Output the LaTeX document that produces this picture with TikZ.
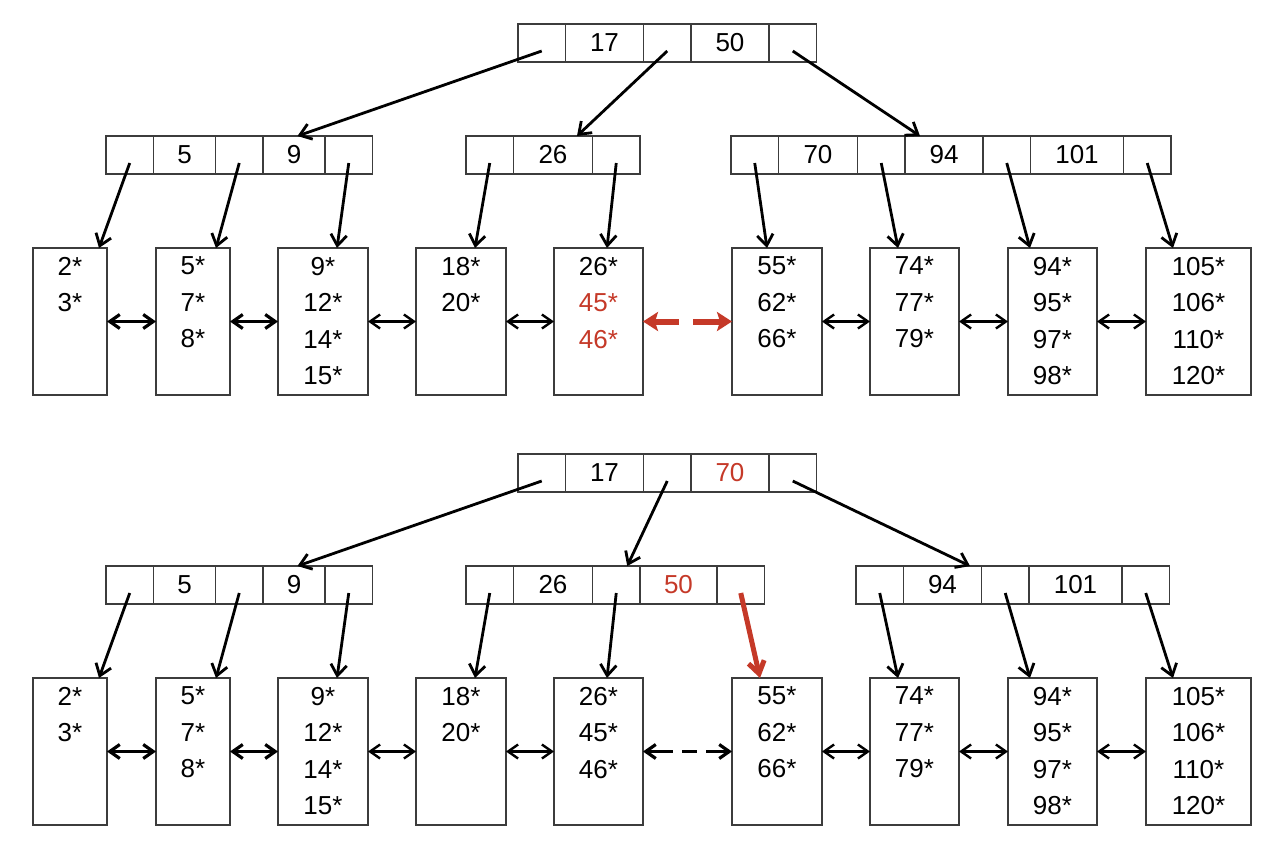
\documentclass[tikz,border=0pt]{standalone}
\usepackage{fontspec}
\setmainfont{Liberation Sans}
\usetikzlibrary{positioning, calc, arrows.meta}
\definecolor{hl}{RGB}{197,57,40}
\definecolor{boxgray}{RGB}{60,60,60}

\begin{document}
\begin{tikzpicture}[x=0.5pt, y=-0.5pt, node distance=0pt,
	every node/.style={font=\fontsize{13}{18.25}\selectfont},
	cell/.style={draw=boxgray, line width=0.75pt, outer sep=0pt, inner sep=0pt, minimum height=19pt, anchor=west},
	ptrcell/.style={cell, minimum width=23.75pt},
	keycell/.style={cell, minimum width=#1},
	leaf/.style={draw=boxgray, line width=0.75pt, outer sep=0pt, minimum height=73.5pt, anchor=north west,
		label={[anchor=north, align=center, inner sep=4.3pt]north:#1}},
	downarrow/.style={-{Straight Barb[length=5.5pt, width=8pt]}, line width=1.4pt},
	sibling/.style={{Straight Barb[length=5pt, width=7pt]}-{Straight Barb[length=5pt, width=7pt]}, line width=1.2pt},
	thicksibling/.style={sibling, line width=1.6pt}]
	\useasboundingbox (0,0) rectangle (1266,843);

	% top tree: before
	\node[ptrcell] (tr1) at (518,43) {};
	\node[keycell=39pt, right=of tr1] (tr2) {17};
	\node[ptrcell, right=of tr2] (tr3) {};
	\node[keycell=39pt, right=of tr3] (tr4) {50};
	\node[ptrcell, right=of tr4] (tr5) {};

	\node[ptrcell] (tx1) at (106,155) {};
	\node[keycell=31pt, right=of tx1] (tx2) {5};
	\node[ptrcell, right=of tx2] (tx3) {};
	\node[keycell=31pt, right=of tx3] (tx4) {9};
	\node[ptrcell, right=of tx4] (tx5) {};

	\node[ptrcell] (ty1) at (466,155) {};
	\node[keycell=39.5pt, right=of ty1] (ty2) {26};
	\node[ptrcell, right=of ty2] (ty3) {};

	\node[ptrcell] (tz1) at (731,155) {};
	\node[keycell=39.5pt, right=of tz1] (tz2) {70};
	\node[ptrcell, right=of tz2] (tz3) {};
	\node[keycell=39pt, right=of tz3] (tz4) {94};
	\node[ptrcell, right=of tz4] (tz5) {};
	\node[keycell=46.5pt, right=of tz5] (tz6) {101};
	\node[ptrcell, right=of tz6] (tz7) {};

	\node[leaf={2*\\3*}, minimum width=37pt] (tl1) at (33,248) {};
	\node[leaf={5*\\7*\\8*}, minimum width=37pt] (tl2) at (156,248) {};
	\node[leaf={9*\\12*\\14*\\15*}, minimum width=45pt] (tl3) at (278,248) {};
	\node[leaf={18*\\20*}, minimum width=45pt] (tl4) at (416,248) {};
	\node[leaf={26*\\\textcolor{hl}{45*}\\\textcolor{hl}{46*}}, minimum width=44.5pt] (tl5) at (554,248) {};
	\node[leaf={55*\\62*\\66*}, minimum width=45pt] (tl6) at (732,248) {};
	\node[leaf={74*\\77*\\79*}, minimum width=44.5pt] (tl7) at (870,248) {};
	\node[leaf={94*\\95*\\97*\\98*}, minimum width=44.5pt] (tl8) at (1008,248) {};
	\node[leaf={105*\\106*\\110*\\120*}, minimum width=52.5pt] (tl9) at (1146,248) {};

	\draw[downarrow] ([yshift=-4pt]tr1.center) -- ([xshift=1.75pt]tx4.north);
	\draw[downarrow] ([yshift=-4pt]tr3.center) -- ([xshift=12pt]ty2.north);
	\draw[downarrow] ([yshift=-4pt]tr5.center) -- ([xshift=-12pt]tz4.north);

	\draw[downarrow] ([yshift=-4pt]tx1.center) -- ([xshift=14.5pt]tl1.north);
	\draw[downarrow] ([yshift=-4pt]tx3.center) -- ([xshift=11.5pt]tl2.north);
	\draw[downarrow] ([yshift=-4pt]tx5.center) -- ([xshift=7pt]tl3.north);
	\draw[downarrow] ([yshift=-4pt]ty1.center) -- ([xshift=7pt]tl4.north);
	\draw[downarrow] ([yshift=-4pt]ty3.center) -- ([xshift=4.25pt]tl5.north);
	\draw[downarrow] ([yshift=-4pt]tz1.center) -- ([xshift=-5pt]tl6.north);
	\draw[downarrow] ([yshift=-4pt]tz3.center) -- ([xshift=-8.25pt]tl7.north);
	\draw[downarrow] ([yshift=-4pt]tz5.center) -- ([xshift=-11.25pt]tl8.north);
	\draw[downarrow] ([yshift=-4pt]tz7.center) -- ([xshift=-12.75pt]tl9.north);

	\draw[thicksibling] (tl1) -- (tl2);
	\draw[thicksibling] (tl2) -- (tl3);
	\foreach \i/\j in {3/4, 4/5, 6/7, 7/8, 8/9}
		\draw[sibling] (tl\i) -- (tl\j);
	\draw[hl, line width=3pt, {Stealth[length=7.5pt, width=9.5pt, inset=1.5pt]}-{Stealth[length=7.5pt, width=9.5pt, inset=1.5pt]},
		dash pattern=on 12.5pt off 7pt on 30pt] (tl5) -- (tl6);

	% bottom tree: after
	\node[ptrcell] (br1) at (518,473) {};
	\node[keycell=39pt, right=of br1] (br2) {17};
	\node[ptrcell, right=of br2] (br3) {};
	\node[keycell=39pt, right=of br3, text=hl] (br4) {70};
	\node[ptrcell, right=of br4] (br5) {};

	\node[ptrcell] (bx1) at (106,585) {};
	\node[keycell=31pt, right=of bx1] (bx2) {5};
	\node[ptrcell, right=of bx2] (bx3) {};
	\node[keycell=31pt, right=of bx3] (bx4) {9};
	\node[ptrcell, right=of bx4] (bx5) {};

	\node[ptrcell] (by1) at (466,585) {};
	\node[keycell=39.5pt, right=of by1] (by2) {26};
	\node[ptrcell, right=of by2] (by3) {};
	\node[keycell=38.5pt, right=of by3, text=hl] (by4) {50};
	\node[ptrcell, right=of by4] (by5) {};

	\node[ptrcell] (bz1) at (856,585) {};
	\node[keycell=39pt, right=of bz1] (bz2) {94};
	\node[ptrcell, right=of bz2] (bz3) {};
	\node[keycell=46.5pt, right=of bz3] (bz4) {101};
	\node[ptrcell, right=of bz4] (bz5) {};

	\node[leaf={2*\\3*}, minimum width=37pt] (bl1) at (33,678) {};
	\node[leaf={5*\\7*\\8*}, minimum width=37pt] (bl2) at (156,678) {};
	\node[leaf={9*\\12*\\14*\\15*}, minimum width=45pt] (bl3) at (278,678) {};
	\node[leaf={18*\\20*}, minimum width=45pt] (bl4) at (416,678) {};
	\node[leaf={26*\\45*\\46*}, minimum width=44.5pt] (bl5) at (554,678) {};
	\node[leaf={55*\\62*\\66*}, minimum width=45pt] (bl6) at (732,678) {};
	\node[leaf={74*\\77*\\79*}, minimum width=44.5pt] (bl7) at (870,678) {};
	\node[leaf={94*\\95*\\97*\\98*}, minimum width=44.5pt] (bl8) at (1008,678) {};
	\node[leaf={105*\\106*\\110*\\120*}, minimum width=52.5pt] (bl9) at (1146,678) {};

	\draw[downarrow] ([yshift=-4pt]br1.center) -- ([xshift=1.75pt]bx4.north);
	\draw[downarrow] ([yshift=-4pt]br3.center) -- ([xshift=5.5pt]by3.north);
	\draw[downarrow] ([yshift=-4pt]br5.center) -- ([xshift=13.75pt]bz2.north);

	\draw[downarrow] ([yshift=-4pt]bx1.center) -- ([xshift=14.5pt]bl1.north);
	\draw[downarrow] ([yshift=-4pt]bx3.center) -- ([xshift=11.5pt]bl2.north);
	\draw[downarrow] ([yshift=-4pt]bx5.center) -- ([xshift=7pt]bl3.north);
	\draw[downarrow] ([yshift=-4pt]by1.center) -- ([xshift=7pt]bl4.north);
	\draw[downarrow] ([yshift=-4pt]by3.center) -- ([xshift=4.25pt]bl5.north);
	\draw[downarrow, hl, line width=2.5pt, -{Straight Barb[length=6pt, width=8pt]}] ([yshift=-4pt]by5.center) -- ([xshift=-8.5pt]bl6.north);
	\draw[downarrow] ([yshift=-4pt]bz1.center) -- ([xshift=-8.25pt]bl7.north);
	\draw[downarrow] ([yshift=-4pt]bz3.center) -- ([xshift=-11.25pt]bl8.north);
	\draw[downarrow] ([yshift=-4pt]bz5.center) -- ([xshift=-12.75pt]bl9.north);

	\draw[thicksibling] (bl1) -- (bl2);
	\draw[thicksibling] (bl2) -- (bl3);
	\foreach \i/\j in {3/4, 4/5, 6/7, 7/8, 8/9}
		\draw[sibling] (bl\i) -- (bl\j);
	\draw[sibling, line width=1.6pt, dash pattern=on 13pt off 4.5pt on 7.5pt off 4.5pt on 30pt] (bl5) -- (bl6);
\end{tikzpicture}
\end{document}
